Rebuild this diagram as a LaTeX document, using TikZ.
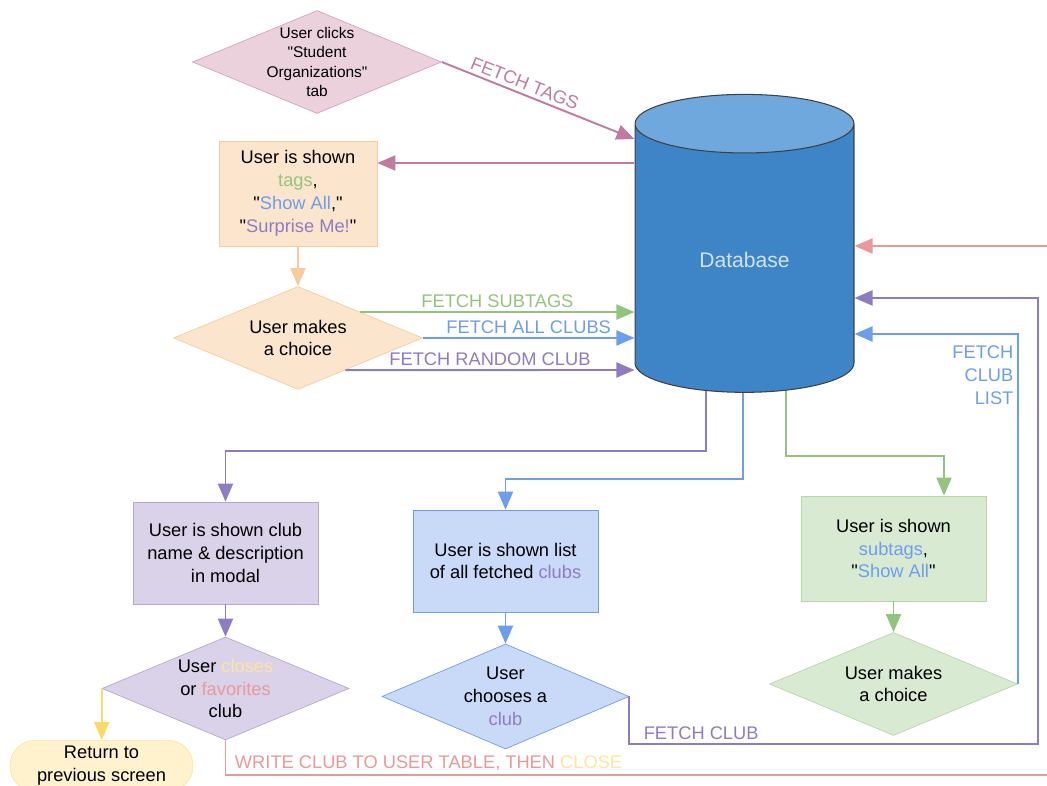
\documentclass[tikz,border=0pt]{standalone}
\usepackage{fontspec}
\setmainfont{Liberation Sans}
\usepackage{tikz}
\usetikzlibrary{shapes, arrows.meta, positioning, backgrounds, calc}
\definecolor{pinkfill}{HTML}{EAD1DC}
\definecolor{pinkline}{HTML}{C27BA0}
\definecolor{orangefill}{HTML}{FCE5CD}
\definecolor{orangeline}{HTML}{F9CB9C}
\definecolor{greenfill}{HTML}{D9EAD3}
\definecolor{greenline}{HTML}{93C47D}
\definecolor{greenborder}{HTML}{B6D7A8}
\definecolor{bluefill}{HTML}{C9DAF8}
\definecolor{blueline}{HTML}{6D9EEB}
\definecolor{purplefill}{HTML}{D9D2E9}
\definecolor{purpleline}{HTML}{8E7CC3}
\definecolor{purpleborder}{HTML}{B4A7D6}
\definecolor{redline}{HTML}{EA9999}
\definecolor{yellowline}{HTML}{FFD966}
\definecolor{yellowtext}{HTML}{FFE599}
\definecolor{yellowfill}{HTML}{FFF2CC}
\definecolor{dbbody}{HTML}{3D85C6}
\definecolor{dbtop}{HTML}{6FA8DC}
\definecolor{dbtext}{HTML}{CFE2F3}
\tikzstyle{txt} = [font=\fontsize{10.4}{13}\selectfont, align=center]
\tikzstyle{decision} = [txt, diamond, aspect=2.4, inner sep=0pt, minimum width=4.94cm, minimum height=2.06cm]
\tikzstyle{process} = [txt, rectangle, minimum width=3.7cm, minimum height=2.04cm]
\tikzstyle{flow} = [line width=1.1pt, -{Triangle[length=0.36cm, width=0.3cm]}]
\tikzstyle{flowlabel} = [txt, inner sep=2pt]
\newcommand{\qt}{\textquotedbl}

\begin{document}
\begin{tikzpicture}[x=0.02cm, y=-0.02cm, node distance=2.71cm]
\useasboundingbox (0,0) rectangle (1047,786);
\clip (0,0) rectangle (1047,786);
\node (click) [decision, fill=pinkfill, draw=pinkline!70, font=\fontsize{8.8}{11}\selectfont, inner sep=-4pt, minimum width=4.98cm] at (317,62) {User clicks\\\qt Student\\Organizations\qt\\tab};
\node (db) [cylinder, shape border rotate=90, aspect=5, draw=black!75, line width=0.6pt, cylinder uses custom fill, cylinder body fill=dbbody, cylinder end fill=dbtop, minimum width=4.38cm, minimum height=5.96cm, label={[txt, font=\fontsize{12}{14}\selectfont, text=dbtext, yshift=0.06cm]center:Database}] at (744.5,263) {};
\node (tags) [process, fill=orangefill, draw=orangeline, minimum width=3.16cm, minimum height=2.1cm] at (298,193.5) {User is shown\\\textcolor{greenline}{tags},\\\qt\textcolor{blueline}{Show All},\qt\\\qt\textcolor{purpleline}{Surprise Me!}\qt};
\node (choice) [decision, fill=orangefill, draw=orangeline, minimum width=4.98cm, below of=tags, yshift=-0.18cm] {User makes\\a choice};
\node (modal) [process, fill=purplefill, draw=purpleborder] at (225.5,553) {User is shown club\\name \& description\\in modal};
\node (fav) [decision, fill=purplefill, draw=purpleborder, below of=modal] {User \textcolor{yellowtext}{closes}\\or \textcolor{redline}{favorites}\\club};
\node (back) [txt, rectangle, rounded corners=0.5cm, fill=yellowfill, draw=yellowtext, minimum width=3.66cm, minimum height=1.0cm, anchor=north] at (101.5,740) {Return to\\previous screen};
\node (list) [process, fill=bluefill, draw=blueline] at (505.5,561) {User is shown list\\of all fetched \textcolor{purpleline}{clubs}};
\node (pick) [decision, fill=bluefill, draw=blueline, below of=list, minimum height=2.1cm] {User\\chooses a\\\textcolor{purpleline}{club}};
\node (sub) [process, fill=greenfill, draw=greenborder, minimum height=2.1cm] at (893.5,548.5) {User is shown\\\textcolor{blueline}{subtags},\\\qt\textcolor{blueline}{Show All}\qt};
\node (subchoice) [decision, fill=greenfill, draw=greenborder, minimum width=4.96cm, below of=sub] {User makes\\a choice};

% from the start to the database and back
\draw[flow, pinkline] (click.east) -- node[flowlabel, sloped, above, pos=0.41, text=pinkline] {FETCH TAGS} (db.west |- 0,139);
\draw[flow, pinkline] (db.west |- 0,163) -- (tags.east |- 0,163);
\draw[flow, orangeline] (tags) -- (choice);
\draw[flow, greenline] (choice.north east) -- node[flowlabel, above, text=greenline] {FETCH SUBTAGS} (db.west |- choice.north east);
\draw[flow, blueline] (choice.east) -- node[flowlabel, above, text=blueline] {FETCH ALL CLUBS} (db.west |- choice.east);
\draw[flow, purpleline] ($(choice.east)!0.62!(choice.south)$) -- node[flowlabel, above, text=purpleline] {FETCH RANDOM CLUB} (db.west |- 0,370);

% out of the database
\begin{scope}[on background layer]
\draw[flow, purpleline] ([xshift=-0.77cm]db.center) -- ++(0,188) -| (modal.north);
\draw[flow, blueline] ([xshift=-0.03cm]db.center) -- ++(0,216) -| (list.north);
\draw[flow, greenline] ([xshift=0.83cm]db.center) -- ++(0,193) -| ([xshift=1.01cm]sub.north);
\end{scope}
\draw[flow, purpleline] (modal) -- (fav);
\draw[flow, blueline] (list) -- (pick);
\draw[flow, greenline] (sub) -- (subchoice);
\draw[flow, yellowline] (fav.west) -- (fav.west |- back.north);

% back into the database
\draw[flow, blueline] (subchoice.east) -- (subchoice.east |- 0,334) node[flowlabel, below left, align=right, yshift=-0.15cm, text=blueline] {FETCH\\CLUB\\LIST} -- (db.east |- 0,334);
\draw[flow, purpleline] (pick.east) -- (pick.east |- 0,744) node[flowlabel, above right, xshift=0.2cm, text=purpleline] {FETCH CLUB} -- (1038,744) -- (1038,298) -- (db.east |- 0,298);
\draw[flow, redline] (fav.south) -- (fav.south |- 0,775) node[flowlabel, above right, xshift=0.1cm, text=redline] {WRITE CLUB TO USER TABLE, THEN \textcolor{yellowtext}{CLOSE}} -- (1070,775) -- (1070,246) -- (db.east |- 0,246);
\end{tikzpicture}
\end{document}
